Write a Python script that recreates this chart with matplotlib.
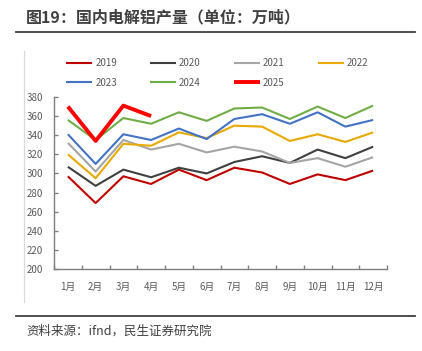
import numpy as np
import matplotlib.pyplot as plt
from matplotlib.lines import Line2D

plt.rcParams['font.family'] = ['Noto Sans CJK SC', 'DejaVu Sans']

# months and monthly output (10k tonnes)
months = ['1月', '2月', '3月', '4月', '5月', '6月', '7月', '8月', '9月', '10月', '11月', '12月']
y2019 = [297, 269, 297, 289, 304, 293, 306, 301, 289, 299, 293, 303]
y2020 = [307, 287, 304, 296, 306, 300, 312, 318, 311, 325, 316, 328]
y2021 = [332, 302, 335, 325, 331, 322, 328, 323, 311, 316, 307, 317]
y2022 = [320, 295, 331, 329, 343, 337, 350, 349, 334, 341, 333, 343]
y2023 = [341, 310, 341, 335, 347, 336, 357, 362, 352, 364, 349, 356]
y2024 = [356, 335, 358, 352, 364, 355, 368, 369, 357, 370, 358, 371]
y2025 = [370, 334, 371, 360]

yticks = np.arange(200, 381, 20)

fig = plt.figure(figsize=(4.22, 3.51), dpi=100)
ax = fig.add_axes([54/422, 1-269/351, (387-54)/422, (269-97)/351])

x = np.arange(12)
series = [
    ('2019', y2019, '#C00000', 1.5),
    ('2020', y2020, '#404040', 1.5),
    ('2021', y2021, '#A5A5A5', 1.5),
    ('2022', y2022, '#E8A900', 1.5),
    ('2023', y2023, '#4472C4', 1.5),
    ('2024', y2024, '#70AD47', 1.5),
    ('2025', y2025, '#FF0000', 2.8),
]
lines = {}
for name, vals, col, lw in series:
    l, = ax.plot(x[:len(vals)], vals, color=col, lw=lw, label=name, solid_capstyle='butt')
    lines[name] = l

ax.set_xlim(-0.5, 11.5)
ax.set_ylim(200, 380)
ax.set_yticks(yticks)
ax.set_xticks(np.arange(-0.5, 12, 1))
ax.set_xticklabels([])
ax.set_xticks(x, minor=True)
ax.set_xticklabels(months, minor=True)
ax.tick_params(axis='x', which='minor', length=0, pad=9)
ax.tick_params(axis='both', which='major', direction='in', length=3, color='#7F7F7F', width=1)
ax.tick_params(labelsize=7, labelcolor='#595959', which='both')
ax.tick_params(axis='y', pad=8)
for s in ['top', 'right']:
    ax.spines[s].set_visible(False)
for s in ['left', 'bottom']:
    ax.spines[s].set_color('#7F7F7F')
    ax.spines[s].set_linewidth(1)

order = ['2019', '2023', '2020', '2024', '2021', '2025', '2022']
fig.legend([lines[k] for k in order], order, ncol=4, frameon=False,
           loc='upper left', bbox_to_anchor=(66/422, 1-58/351),
           fontsize=7, labelcolor='#595959', handlelength=2.7, handletextpad=0.3,
           columnspacing=3.4, labelspacing=1.0, borderpad=0, borderaxespad=0)

# title, rules and source
fig.text(26/422, 1-17/351, '图19：国内电解铝产量（单位：万吨）', fontsize=11.5, fontweight='bold',
         color='#404040', va='center', ha='left')
fig.add_artist(Line2D([16/422, 415/422], [1-32/351, 1-32/351], color='#404040', lw=1.3))
fig.add_artist(Line2D([16/422, 415/422], [1-316/351, 1-316/351], color='#404040', lw=1.3))
fig.add_artist(Line2D([24/422, 24/422], [1-51/351, 1-302/351], color='#D9D9D9', lw=0.8))
fig.text(26/422, 1-331/351, '资料来源：ifnd，民生证券研究院', fontsize=9,
         color='#404040', va='center', ha='left')

fig.savefig('out.png', dpi=100)
